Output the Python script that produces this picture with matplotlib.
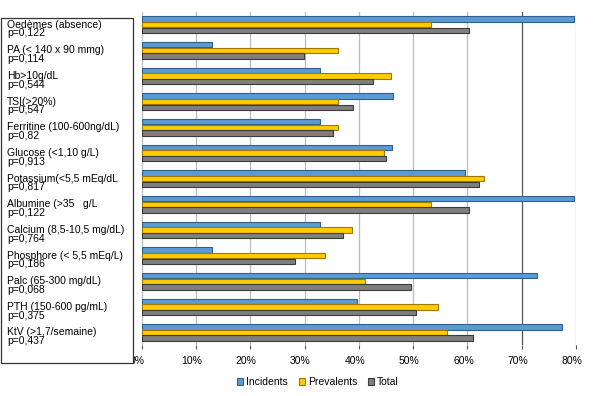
import numpy as np
import matplotlib.pyplot as plt
from matplotlib.patches import Rectangle
from matplotlib.transforms import blended_transform_factory, ScaledTranslation

plt.rcParams['font.family'] = ['Liberation Sans', 'DejaVu Sans']

categories = ['Oedèmes (absence)', 'PA (< 140 x 90 mmg)', 'Hb>10g/dL', 'TSI(>20%)',
              'Ferritine (100-600ng/dL)', 'Glucose (<1,10 g/L)', 'Potassium(<5,5 mEq/dL',
              'Albumine (>35   g/L', 'Calcium (8,5-10,5 mg/dL)', 'Phosphore (< 5,5 mEq/L)',
              'Palc (65-300 mg/dL)', 'PTH (150-600 pg/mL)', 'KtV (>1,7/semaine)']
pvalues = ['p=0,122', 'p=0,114', 'p=0,544', 'p=0,547', 'p=0,82', 'p=0,913', 'p=0,817',
           'p=0,122', 'p=0,764', 'p=0,186', 'p=0,068', 'p=0,375', 'p=0,437']
incidents = [79.6, 13.0, 32.8, 46.3, 32.8, 46.2, 59.5, 79.6, 32.8, 13.0, 72.8, 39.7, 77.4]
prevalents = [53.3, 36.2, 45.9, 36.2, 36.2, 44.6, 63.0, 53.3, 38.7, 33.8, 41.2, 54.6, 56.2]
total = [60.3, 29.9, 42.6, 39.0, 35.3, 45.1, 62.1, 60.3, 37.1, 28.2, 49.6, 50.5, 61.0]
series = ['Incidents', 'Prevalents', 'Total']
xticks = [0, 10, 20, 30, 40, 50, 60, 70, 80]

fig = plt.figure(figsize=(6, 3.96), dpi=100)
ax = fig.add_axes([0.236, 0.128, 0.724, 0.842])

colors = ['#5b9bd5', '#ffcc00', '#7f7f7f']
edges = ['#2f5f8f', '#a07800', '#3a3a3a']
y = np.arange(len(categories))
h = 0.22
for i, (vals, c, e, name) in enumerate(zip([incidents, prevalents, total], colors, edges, series)):
    ax.barh(y + (i - 1) * h, vals, height=h * 0.95, color=c, edgecolor=e,
            linewidth=0.8, label=name, zorder=3)

ax.set_xlim(0, 80)
ax.set_ylim(len(categories) - 0.5, -0.5)
ax.set_xticks(xticks)
ax.set_xticklabels([f'{t}%' for t in xticks], fontsize=7.5)
ax.set_yticks([])
ax.tick_params(axis='x', length=3, color='#555555', pad=4)
# 3D look: labels sit slightly left of the gridlines
shift = ScaledTranslation(-4 / 100, -1 / 100, fig.dpi_scale_trans)
for lab in ax.get_xticklabels():
    lab.set_transform(lab.get_transform() + shift)
for t in xticks:
    ax.axvline(t, color='#555555' if t == 70 else '#bbbbbb', lw=0.9, zorder=1)
for s in ax.spines.values():
    s.set_visible(False)

# label box on the left
box = Rectangle((0.001, 0.083), 0.221, 0.872, transform=fig.transFigure,
                facecolor='white', edgecolor='#333333', lw=0.9, zorder=5)
fig.patches.append(box)
tr = blended_transform_factory(fig.transFigure, ax.transData)
for yi, (c, p) in enumerate(zip(categories, pvalues)):
    fig.text(0.012, yi + 0.17, c + '\n' + p, transform=tr, fontsize=7.5,
             va='center', ha='left', linespacing=0.85, zorder=6)

ax.legend(loc='center', bbox_to_anchor=(0.53, 0.035), bbox_transform=fig.transFigure,
          ncol=3, frameon=False, fontsize=7.5, handlelength=0.6, handleheight=0.6,
          handletextpad=0.3, columnspacing=1.0)

fig.savefig('out.png')
